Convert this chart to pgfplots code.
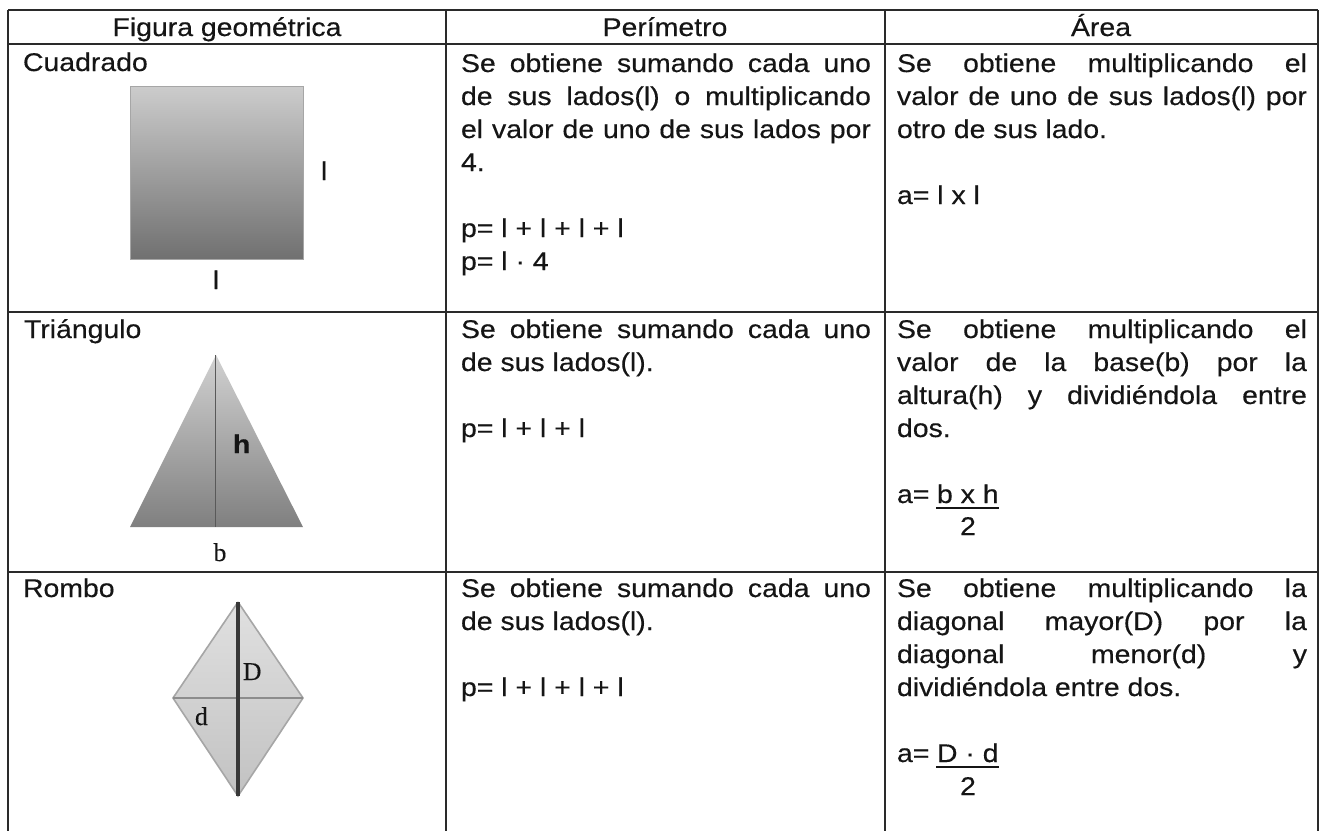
\documentclass[border=0pt]{standalone}
\usepackage{fontspec}
\setmainfont{Liberation Sans}[FakeStretch=1.11, FakeBold=0.35]
\newfontfamily\serifl{Liberation Serif}[FakeBold=0.3]
\usepackage{pgfplots}
\pgfplotsset{compat=1.18}
\definecolor{ink}{HTML}{151515}
\definecolor{rule}{HTML}{2A2A2A}
\newcommand{\J}[1]{\makebox[205pt][s]{#1}}
\tikzset{t/.style={inner sep=0pt, outer sep=0pt, anchor=base west, text=ink},
         c/.style={inner sep=0pt, outer sep=0pt, anchor=base, text=ink}}
\begin{document}
\fontsize{12.8pt}{16.5pt}\selectfont
\begin{tikzpicture}
\begin{axis}[width=661.5pt, height=415.5pt, scale only axis,
  xmin=0, xmax=1323, ymin=0, ymax=831, y dir=reverse,
  hide axis, clip=false]
% background
\addplot[draw=none, fill=white] coordinates {(0,0) (1323,0) (1323,831) (0,831) (0,0)};
% square
\addplot[draw=black!35, line width=0.4pt, top color=black!20, bottom color=black!56] coordinates {(130,86) (303,86) (303,259) (130,259) (130,86)};
% triangle
\addplot[draw=none, top color=black!18, bottom color=black!50] coordinates {(216,355) (303,527) (130,527) (216,355)};
\addplot[color=black!65, line width=0.9pt] coordinates {(215.5,355) (215.5,527)};
% rhombus
\addplot[draw=black!35, line width=0.8pt, top color=black!12, bottom color=black!24] coordinates {(238,602) (303,698) (238,796) (173,698) (238,602)};
\addplot[color=black!45, line width=0.6pt] coordinates {(173,698) (303,698)};
\addplot[color=black!78, line width=1.7pt] coordinates {(238,602) (238,796)};
% shape labels
\node[t] at (axis cs:321,180) {l};
\node[c] at (axis cs:216,289) {l};
\node[t] at (axis cs:233,453) {\bfseries h};
\node[c] at (axis cs:220,561) {\serifl b};
\node[t] at (axis cs:243,680) {\serifl D};
\node[t] at (axis cs:195,725) {\serifl d};
% headers
\node[c] at (axis cs:227,36) {Figura geométrica};
\node[c] at (axis cs:665,36) {Perímetro};
\node[c] at (axis cs:1101,36) {Área};
% column 1
\node[t] at (axis cs:23,71) {Cuadrado};
\node[t] at (axis cs:24,338) {Triángulo};
\node[t] at (axis cs:23,597) {Rombo};
% Perimetro row 1
\node[t] at (axis cs:461,72) {\J{Se obtiene sumando cada uno}};
\node[t] at (axis cs:461,105) {\J{de sus lados(l) o multiplicando}};
\node[t] at (axis cs:461,138) {\J{el valor de uno de sus lados por}};
\node[t] at (axis cs:461,171) {4.};
\node[t] at (axis cs:461,237) {p= l + l + l + l};
\node[t] at (axis cs:461,270) {p= l · 4};
% Area row 1
\node[t] at (axis cs:897,72) {\J{Se obtiene multiplicando el}};
\node[t] at (axis cs:897,105) {\J{valor de uno de sus lados(l) por}};
\node[t] at (axis cs:897,138) {otro de sus lado.};
\node[t] at (axis cs:897,204) {a= l x l};
% Perimetro row 2
\node[t] at (axis cs:461,338) {\J{Se obtiene sumando cada uno}};
\node[t] at (axis cs:461,371) {de sus lados(l).};
\node[t] at (axis cs:461,437) {p= l + l + l};
% Area row 2
\node[t] at (axis cs:897,338) {\J{Se obtiene multiplicando el}};
\node[t] at (axis cs:897,371) {\J{valor de la base(b) por la}};
\node[t] at (axis cs:897,404) {\J{altura(h) y dividiéndola entre}};
\node[t] at (axis cs:897,437) {dos.};
\node[t] at (axis cs:897,503) {a=};
\node[t] at (axis cs:937,503) {b x h};
\addplot[color=ink, line width=0.8pt] coordinates {(936,508) (999,508)};
\node[c] at (axis cs:968,535) {2};
% Perimetro row 3
\node[t] at (axis cs:461,597) {\J{Se obtiene sumando cada uno}};
\node[t] at (axis cs:461,630) {de sus lados(l).};
\node[t] at (axis cs:461,696) {p= l + l + l + l};
% Area row 3
\node[t] at (axis cs:897,597) {\J{Se obtiene multiplicando la}};
\node[t] at (axis cs:897,630) {\J{diagonal mayor(D) por la}};
\node[t] at (axis cs:897,663) {\J{diagonal menor(d) y}};
\node[t] at (axis cs:897,696) {dividiéndola entre dos.};
\node[t] at (axis cs:897,762) {a=};
\node[t] at (axis cs:937,762) {D · d};
\addplot[color=ink, line width=0.8pt] coordinates {(936,767) (999,767)};
\node[c] at (axis cs:968,795) {2};
% table rules
\addplot[color=rule, line width=1pt] coordinates {(8,10) (1318,10)};
\addplot[color=rule, line width=1.2pt] coordinates {(8,44) (1318,44)};
\addplot[color=rule, line width=1pt] coordinates {(8,312) (1318,312)};
\addplot[color=rule, line width=1pt] coordinates {(8,572) (1318,572)};
\addplot[color=rule, line width=1pt] coordinates {(8,10) (8,831)};
\addplot[color=rule, line width=1pt] coordinates {(446,10) (446,831)};
\addplot[color=rule, line width=1pt] coordinates {(885,10) (885,831)};
\addplot[color=rule, line width=1pt] coordinates {(1318,10) (1318,831)};
\end{axis}
\end{tikzpicture}
\end{document}
